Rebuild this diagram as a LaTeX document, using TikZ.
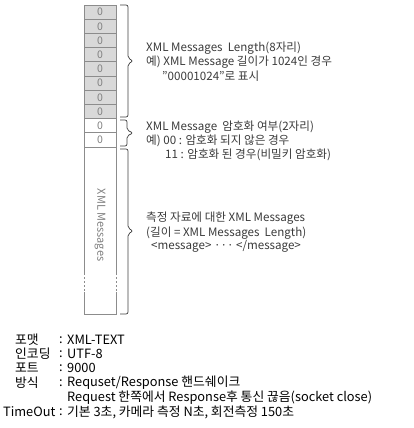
\documentclass[tikz,border=0pt]{standalone}
\usepackage{fontspec}
\setmainfont{Noto Sans CJK KR}
\definecolor{cellfill}{HTML}{D9D9D9}
\definecolor{cellline}{HTML}{8C8C8C}
\definecolor{txtgray}{HTML}{3A3A3A}
\begin{document}
\begin{tikzpicture}[x=1pt,y=-1pt,
  cellbox/.style={draw=cellline, line width=0.8pt, minimum width=32pt, minimum height=14.2pt, inner sep=0pt, text=gray, font=\fontsize{10.5}{10}\selectfont},
  graycell/.style={cellbox, fill=cellfill},
  whitecell/.style={cellbox, fill=white},
  note/.style={anchor=west, inner sep=0pt, text=txtgray, font=\fontsize{11.6}{12}\selectfont},
  info/.style={anchor=west, inner sep=0pt, text=black, font=\fontsize{12.8}{13}\selectfont},
  bracepath/.style={draw=black!75, line width=0.7pt, rounded corners=2pt}
]
\useasboundingbox (0,0) rectangle (413,428);
% gray cells
\foreach \i in {0,...,7}
  \node[graycell] (g\i) at (100, 5+14.2*\i+7.1) {0};
\node[whitecell] (w0) at (100, 5+14.2*8+7.1) {0};
\node[whitecell] (w1) at (100, 5+14.2*9+7.1) {0};
% big message cell
\coordinate (mtl) at (84,147);
\coordinate (mtr) at (116,147);
\coordinate (mbl) at (84,314);
\coordinate (mbr) at (116,314);
\draw[cellline, line width=0.8pt] (84,273) -- (mtl) -- (mtr) -- (116,273);
\draw[cellline, line width=0.8pt] (84,292) -- (mbl) -- (mbr) -- (116,292);
\draw[cellline, line width=0.8pt, dash pattern=on 2pt off 2pt] (84,273) -- (84,292);
\draw[cellline, line width=0.8pt, dash pattern=on 2pt off 2pt] (116,273) -- (116,292);
\node[rotate=-90, text=gray, inner sep=0pt, font=\fontsize{11}{10}\selectfont] (msg) at (100,225) {XML Messages};
% braces
\draw[bracepath] (120,5) -- (128,5) -- (128,58) -- (133,61) -- (128,64) -- (128,117) -- (120,117);
\draw[bracepath] (120,120) -- (127,120) -- (127,130) -- (133,133) -- (127,136) -- (127,146) -- (120,146);
\draw[bracepath] (120,149) -- (128,149) -- (128,228) -- (133,231) -- (128,234) -- (128,314) -- (120,314);
% notes
\node[note] (n11) at (146,48) {XML Messages\ \ Length(8자리)};
\node[note] (n12) at (146,62) {예) XML Message 길이가 1024인 경우};
\node[note] (n13) at (162,76) {"00001024"로 표시};
\node[note] (n21) at (146,127) {XML Message\ \ 암호화 여부(2자리)};
\node[note] (n22) at (146,141) {예) 00 : 암호화 되지 않은 경우};
\node[note] (n23) at (165,155) {11 : 암호화 된 경우(비밀키 암호화)};
\node[note] (n31) at (146,218) {측정 자료에 대한 XML Messages};
\node[note] (n32) at (146,233) {(길이 = XML Messages\ \ Length)};
\node[note] (n33) at (151,246) {<message> ··· </message>};
% info
\node[info] (l1) at (15,340) {포맷};
\node[info] (l2) at (15,354) {인코딩};
\node[info] (l3) at (15,368) {포트};
\node[info] (l4) at (15,383) {방식};
\node[info] (l6) at (3,412) {TimeOut};
\foreach \y/\n in {340/1,354/2,368/3,383/4,412/6}
  \node[info] (c\n) at (59,\y) {:};
\node[info] (v1) at (67,340) {XML-TEXT};
\node[info] (v2) at (67,354) {UTF-8};
\node[info] (v3) at (67,368) {9000};
\node[info] (v4) at (67,383) {Requset/Response 핸드쉐이크};
\node[info] (v5) at (67,398) {Request 한쪽에서 Response후 통신 끊음(socket close)};
\node[info] (v6) at (67,412) {기본 3초, 카메라 측정 N초, 회전측정 150초};
\end{tikzpicture}
\end{document}
